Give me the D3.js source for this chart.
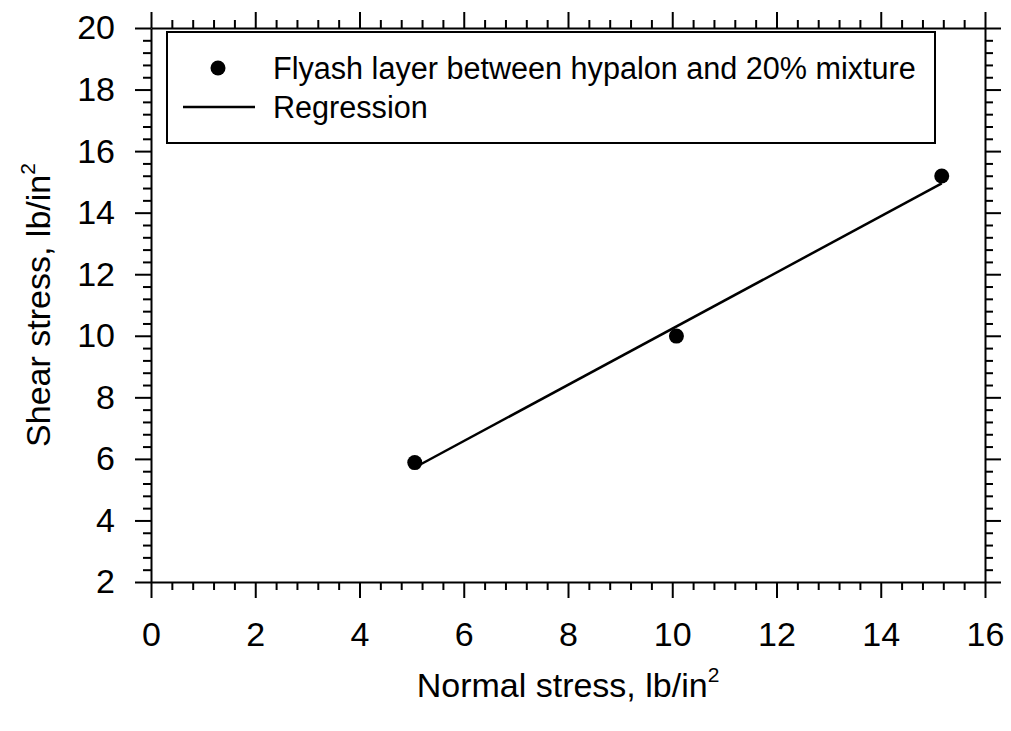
<!DOCTYPE html>
<html>
<head>
<meta charset="utf-8">
<script src="https://cdn.jsdelivr.net/npm/d3@7"></script>
<style>
  html, body { margin: 0; padding: 0; background: #fff; }
  svg { display: block; font-family: "Liberation Sans", Arial, sans-serif; }
</style>
</head>
<body>
<svg id="chart" width="1011" height="731"></svg>
<script>
// Data
const normalStress = [5.06, 10.08, 15.17];
const shearStress = [5.88, 9.99, 15.19];
const regressionX = [5.06, 15.17];
const regressionY = [5.72, 14.95];
const xTicks = [0, 2, 4, 6, 8, 10, 12, 14, 16];
const yTicks = [2, 4, 6, 8, 10, 12, 14, 16, 18, 20];
const legendLabels = ["Flyash layer between hypalon and 20% mixture", "Regression"];

const svg = d3.select("#chart");
const L = 151, R = 985, T = 28, B = 582;

const x = d3.scaleLinear().domain([0, 16]).range([L, R]);
const y = d3.scaleLinear().domain([2, 20]).range([B, T]);

const xMinor = d3.range(0, 16.001, 0.4).filter(v => Math.abs(v / 2 - Math.round(v / 2)) > 1e-6);
const yMinor = d3.range(2, 20.001, 0.4).filter(v => Math.abs(v / 2 - Math.round(v / 2)) > 1e-6);

function styleAxis(g, fontSize) {
  g.select(".domain").attr("stroke", "#000").attr("stroke-width", 2);
  g.selectAll(".tick line").attr("stroke", "#000").attr("stroke-width", 2);
  g.selectAll(".tick text").attr("fill", "#000").style("font-size", fontSize + "px")
    .style("font-family", "'Liberation Sans', Arial, sans-serif");
}

// Minor ticks
svg.append("g").attr("transform", `translate(0,${B})`)
  .call(d3.axisBottom(x).tickValues(xMinor).tickSize(8).tickFormat("").tickSizeOuter(0))
  .call(g => { styleAxis(g, 0); g.select(".domain").remove(); });
svg.append("g").attr("transform", `translate(0,${T})`)
  .call(d3.axisTop(x).tickValues(xMinor).tickSize(8).tickFormat("").tickSizeOuter(0))
  .call(g => { styleAxis(g, 0); g.select(".domain").remove(); });
svg.append("g").attr("transform", `translate(${L},0)`)
  .call(d3.axisLeft(y).tickValues(yMinor).tickSize(8).tickFormat("").tickSizeOuter(0))
  .call(g => { styleAxis(g, 0); g.select(".domain").remove(); });
svg.append("g").attr("transform", `translate(${R},0)`)
  .call(d3.axisRight(y).tickValues(yMinor).tickSize(8).tickFormat("").tickSizeOuter(0))
  .call(g => { styleAxis(g, 0); g.select(".domain").remove(); });

// Major axes
svg.append("g").attr("transform", `translate(0,${B})`)
  .call(d3.axisBottom(x).tickValues(xTicks).tickSize(16).tickPadding(24).tickSizeOuter(0).tickFormat(d3.format("d")))
  .call(g => styleAxis(g, 34));
svg.append("g").attr("transform", `translate(0,${T})`)
  .call(d3.axisTop(x).tickValues(xTicks).tickSize(16).tickSizeOuter(0).tickFormat(""))
  .call(g => styleAxis(g, 0));
svg.append("g").attr("transform", `translate(${L},0)`)
  .call(d3.axisLeft(y).tickValues(yTicks).tickSize(16).tickPadding(20).tickSizeOuter(0).tickFormat(d3.format("d")))
  .call(g => styleAxis(g, 34));
svg.append("g").attr("transform", `translate(${R},0)`)
  .call(d3.axisRight(y).tickValues(yTicks).tickSize(16).tickSizeOuter(0).tickFormat(""))
  .call(g => styleAxis(g, 0));

// Regression line
const line = d3.line().x(d => x(d[0])).y(d => y(d[1]));
svg.append("path")
  .datum(d3.zip(regressionX, regressionY))
  .attr("d", line)
  .attr("fill", "none").attr("stroke", "#000").attr("stroke-width", 2.5);

// Points
svg.append("g").selectAll("circle")
  .data(d3.zip(normalStress, shearStress))
  .join("circle")
  .attr("cx", d => x(d[0])).attr("cy", d => y(d[1])).attr("r", 7.5)
  .attr("fill", "#000");

// Legend
const lg = svg.append("g");
lg.append("rect").attr("x", 167).attr("y", 32).attr("width", 768).attr("height", 111)
  .attr("fill", "#fff").attr("stroke", "#000").attr("stroke-width", 2);
lg.append("circle").attr("cx", 218).attr("cy", 68).attr("r", 7.5).attr("fill", "#000");
lg.append("line").attr("x1", 183).attr("x2", 255).attr("y1", 107).attr("y2", 107)
  .attr("stroke", "#000").attr("stroke-width", 2.5);
lg.selectAll("text.lab").data(legendLabels).join("text").attr("class", "lab")
  .attr("x", 273).attr("y", (d, i) => 79 + i * 39)
  .style("font-size", "30.6px").attr("fill", "#000")
  .text(d => d);

// Axis titles
const xt = svg.append("text").attr("x", (L + R) / 2).attr("y", 697)
  .attr("text-anchor", "middle").style("font-size", "34px").attr("fill", "#000");
xt.append("tspan").text("Normal stress, lb/in");
xt.append("tspan").text("2").style("font-size", "21px").attr("dy", -15);

const yt = svg.append("text")
  .attr("transform", `translate(50,${(T + B) / 2}) rotate(-90)`)
  .attr("text-anchor", "middle").style("font-size", "34px").attr("fill", "#000");
yt.append("tspan").text("Shear stress, lb/in");
yt.append("tspan").text("2").style("font-size", "21px").attr("dy", -15);
</script>
</body>
</html>
